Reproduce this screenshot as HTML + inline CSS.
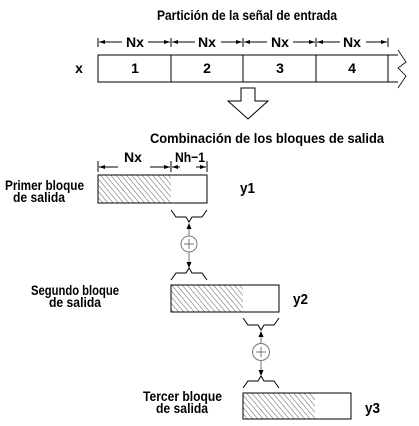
<!DOCTYPE html>
<html><head><meta charset="utf-8"><style>
html,body{margin:0;padding:0;background:#fff;}
svg{display:block;}
text{font-family:"Liberation Sans",sans-serif;font-weight:bold;fill:#000;}
</style></head><body>
<svg width="419" height="426" viewBox="0 0 419 426" xmlns="http://www.w3.org/2000/svg">
<defs>
<pattern id="h" patternUnits="userSpaceOnUse" width="4" height="4" patternTransform="rotate(-40)">
<line x1="0" y1="0" x2="0" y2="4" stroke="#333" stroke-width="0.8"/>
</pattern>
<marker id="a" viewBox="0 0 6 6" refX="6" refY="3" markerWidth="6" markerHeight="6" orient="auto"><path d="M0,1 L6,3 L0,5z" fill="#000"/></marker>
</defs>
<text x="157" y="20" font-size="14" textLength="180" lengthAdjust="spacingAndGlyphs">Partición de la señal de entrada</text>
<g stroke="#000" stroke-width="1" fill="none">
<line x1="98" y1="38" x2="98" y2="47"/><line x1="171" y1="38" x2="171" y2="47"/><line x1="243" y1="38" x2="243" y2="47"/><line x1="316" y1="38" x2="316" y2="47"/><line x1="388" y1="38" x2="388" y2="47"/>
</g>
<g stroke="#000" stroke-width="1" marker-end="url(#a)">
<line x1="122" y1="42" x2="99" y2="42"/><line x1="148" y1="42" x2="170" y2="42"/>
<line x1="195" y1="42" x2="172" y2="42"/><line x1="221" y1="42" x2="242" y2="42"/>
<line x1="267" y1="42" x2="244" y2="42"/><line x1="293" y1="42" x2="315" y2="42"/>
<line x1="340" y1="42" x2="317" y2="42"/><line x1="366" y1="42" x2="387" y2="42"/>
</g>
<text x="135" y="47" font-size="14" text-anchor="middle" textLength="18" lengthAdjust="spacingAndGlyphs">Nx</text>
<text x="207" y="47" font-size="14" text-anchor="middle" textLength="18" lengthAdjust="spacingAndGlyphs">Nx</text>
<text x="280" y="47" font-size="14" text-anchor="middle" textLength="18" lengthAdjust="spacingAndGlyphs">Nx</text>
<text x="352" y="47" font-size="14" text-anchor="middle" textLength="18" lengthAdjust="spacingAndGlyphs">Nx</text>
<text x="79" y="73" font-size="14" text-anchor="middle">x</text>
<g stroke="#000" stroke-width="1" fill="none">
<path d="M398,55 L98,55 L98,82 L398,82"/>
<line x1="171" y1="55" x2="171" y2="82"/><line x1="243" y1="55" x2="243" y2="82"/><line x1="316" y1="55" x2="316" y2="82"/><line x1="388" y1="55" x2="388" y2="82"/>
<path d="M398,50 L406,62 L398,68 L406,76 L398,88" stroke-width="0.8"/>
<path d="M241,88 L255,88 L255,101 L268,101 L248,119 L228,101 L241,101 Z"/>
</g>
<text x="135" y="73" font-size="14" text-anchor="middle">1</text>
<text x="207" y="73" font-size="14" text-anchor="middle">2</text>
<text x="280" y="73" font-size="14" text-anchor="middle">3</text>
<text x="352" y="73" font-size="14" text-anchor="middle">4</text>
<text x="150" y="143" font-size="14" textLength="234" lengthAdjust="spacingAndGlyphs">Combinación de los bloques de salida</text>
<g stroke="#000" stroke-width="1">
<line x1="98" y1="161" x2="98" y2="172"/><line x1="171" y1="161" x2="171" y2="172"/><line x1="207" y1="161" x2="207" y2="172"/>
</g>
<g stroke="#000" stroke-width="1" marker-end="url(#a)">
<line x1="118" y1="167" x2="99" y2="167"/><line x1="150" y1="167" x2="170" y2="167"/>
<line x1="180" y1="167" x2="172" y2="167"/><line x1="196" y1="167" x2="206" y2="167"/>
</g>
<text x="133" y="162" font-size="14" text-anchor="middle" textLength="18" lengthAdjust="spacingAndGlyphs">Nx</text>
<text x="190" y="162" font-size="14" text-anchor="middle" textLength="30" lengthAdjust="spacingAndGlyphs">Nh−1</text>
<rect x="98" y="175" width="73" height="28" fill="url(#h)"/>
<rect x="98" y="175" width="109" height="28" fill="none" stroke="#000"/>
<rect x="171" y="285" width="72" height="27" fill="url(#h)"/>
<rect x="171" y="285" width="108" height="27" fill="none" stroke="#000"/>
<rect x="243" y="393" width="72" height="26" fill="url(#h)"/>
<rect x="243" y="393" width="108" height="26" fill="none" stroke="#000"/>
<text x="240" y="193" font-size="15" textLength="15" lengthAdjust="spacingAndGlyphs">y1</text>
<text x="293" y="304" font-size="15" textLength="15" lengthAdjust="spacingAndGlyphs">y2</text>
<text x="365" y="413" font-size="15" textLength="15" lengthAdjust="spacingAndGlyphs">y3</text>
<text x="5" y="190" font-size="14" textLength="79" lengthAdjust="spacingAndGlyphs">Primer bloque</text>
<text x="13" y="202" font-size="14" textLength="52" lengthAdjust="spacingAndGlyphs">de salida</text>
<text x="31" y="295" font-size="14" textLength="88" lengthAdjust="spacingAndGlyphs">Segundo bloque</text>
<text x="49" y="307" font-size="14" textLength="52" lengthAdjust="spacingAndGlyphs">de salida</text>
<text x="143" y="401" font-size="14" textLength="79" lengthAdjust="spacingAndGlyphs">Tercer bloque</text>
<text x="156" y="413" font-size="14" textLength="52" lengthAdjust="spacingAndGlyphs">de salida</text>
<g stroke="#000" stroke-width="1" fill="none">
<path d="M171,210 L176,217 L186,217 L189,222 L192,217 L202,217 L207,210"/>
<path d="M171,280 L176,273 L186,273 L189,268 L192,273 L202,273 L207,280"/>
<path d="M243,318 L248,325 L258,325 L261,330 L264,325 L274,325 L279,318"/>
<path d="M243,388 L248,381 L258,381 L261,376 L264,381 L274,381 L279,388"/>
</g>
<path d="M189,223 l-2.5,6 h5z M189,268 l-2.5,-6 h5z M261,331 l-2.5,6 h5z M261,376 l-2.5,-6 h5z" fill="#000"/>
<line x1="189" y1="229" x2="189" y2="262" stroke="#888" stroke-width="1.2"/>
<line x1="261" y1="337" x2="261" y2="370" stroke="#888" stroke-width="1.2"/>
<circle cx="189" cy="244" r="8" fill="#fff" stroke="#777"/>
<path d="M184,244 h10 M189,239 v10" stroke="#777"/>
<circle cx="261" cy="352" r="8.5" fill="#fff" stroke="#777"/>
<path d="M256,352 h10 M261,347 v10" stroke="#777"/>
</svg>
</body></html>
